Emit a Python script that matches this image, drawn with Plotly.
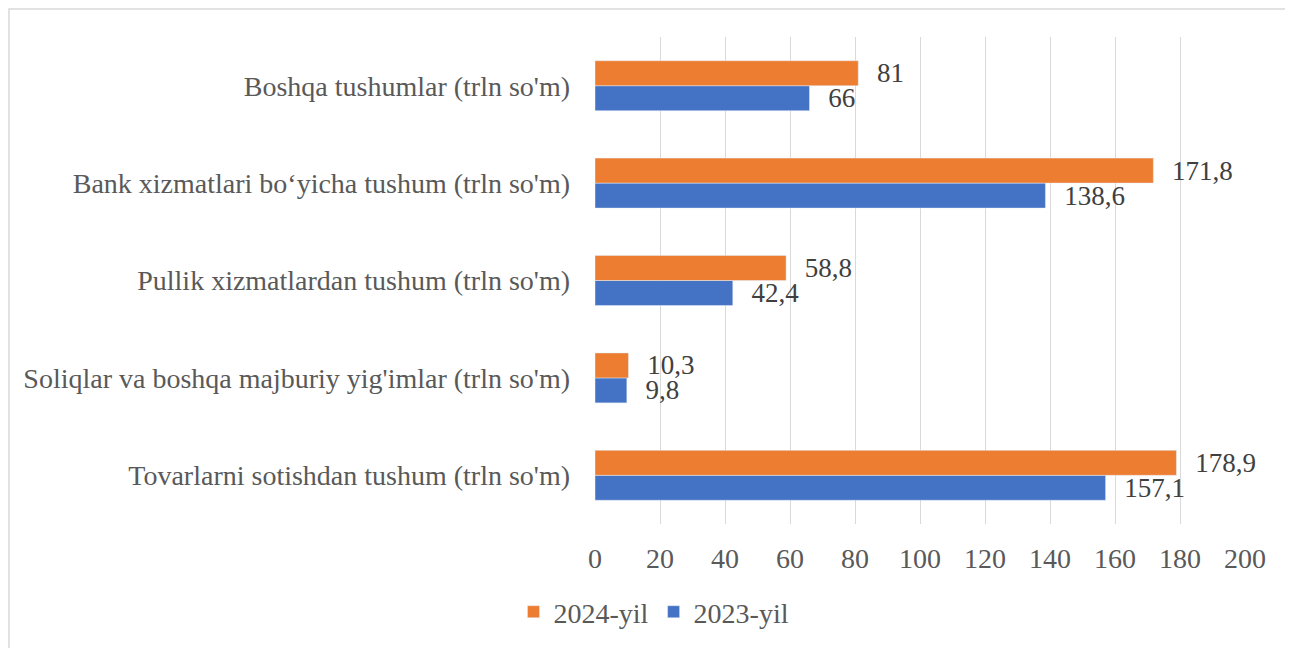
import plotly.graph_objects as go

categories = [
    "Tovarlarni sotishdan tushum (trln so'm)",
    "Soliqlar va boshqa majburiy yig'imlar (trln so'm)",
    "Pullik xizmatlardan tushum (trln so'm)",
    "Bank xizmatlari bo‘yicha tushum (trln so'm)",
    "Boshqa tushumlar (trln so'm)",
]
values_2023 = [157.1, 9.8, 42.4, 138.6, 66]
values_2024 = [178.9, 10.3, 58.8, 171.8, 81]
labels_2023 = ["157,1", "9,8", "42,4", "138,6", "66"]
labels_2024 = ["178,9", "10,3", "58,8", "171,8", "81"]
x_ticks = [0, 20, 40, 60, 80, 100, 120, 140, 160, 180, 200]

FONT = "Liberation Serif, Times New Roman, serif"
PAD = "\u00a0\u00a0\u200a"

fig = go.Figure()
fig.add_trace(go.Bar(
    y=categories, x=values_2023, orientation="h", name="2023-yil",
    marker=dict(color="#4472C4"),
    text=[PAD + t for t in labels_2023], textposition="outside",
    textfont=dict(family=FONT, size=27, color="#404040"),
    constraintext="none", cliponaxis=False,
))
fig.add_trace(go.Bar(
    y=categories, x=values_2024, orientation="h", name="2024-yil",
    marker=dict(color="#ED7D31"),
    text=[PAD + t for t in labels_2024], textposition="outside",
    textfont=dict(family=FONT, size=27, color="#404040"),
    constraintext="none", cliponaxis=False,
))

# page body adds an 8px offset; work in reference pixels and subtract it
OFF = 8
W, H = 1293 - OFF, 648 - OFF
L, R, T, B = 595 - OFF, 1293 - 1245, 37 - OFF, 648 - 524
pw, ph = W - L - R, H - T - B

def fx(p):
    # figure pixel -> paper x
    return (p - L) / pw

def fy(p):
    # figure pixel -> paper y
    return (H - B - p) / ph

fig.update_layout(
    width=W, height=H,
    margin=dict(l=L, r=R, t=T, b=B),
    paper_bgcolor="white", plot_bgcolor="white",
    barmode="group", bargap=0.487, bargroupgap=0,
    font=dict(family=FONT, size=28, color="#595959"),
    showlegend=True,
    legend=dict(
        orientation="h", traceorder="reversed",
        xref="container", yref="container",
        x=(654 - OFF) / W, xanchor="center", y=1 - (612 - OFF) / H, yanchor="middle",
        font=dict(family=FONT, size=28, color="#595959"),
        itemwidth=30,
    ),
    xaxis=dict(
        range=[0, 200], tickvals=x_ticks,
        showgrid=True, gridcolor="#D9D9D9", gridwidth=1,
        zeroline=False, showline=False, ticks="",
        ticklabelstandoff=15,
        tickfont=dict(family=FONT, size=28, color="#595959"),
    ),
    yaxis=dict(
        showgrid=False, zeroline=False, showline=False, ticks="",
        ticklabelstandoff=24,
        tickfont=dict(family=FONT, size=28, color="#595959"),
    ),
    shapes=[dict(
        type="rect", xref="paper", yref="paper",
        x0=fx(1), x1=fx(1280), y0=fy(H + 20), y1=fy(1),
        line=dict(color="#D9D9D9", width=1.5), fillcolor="rgba(0,0,0,0)",
        layer="below",
    )],
)

fig.write_html("out.html")
